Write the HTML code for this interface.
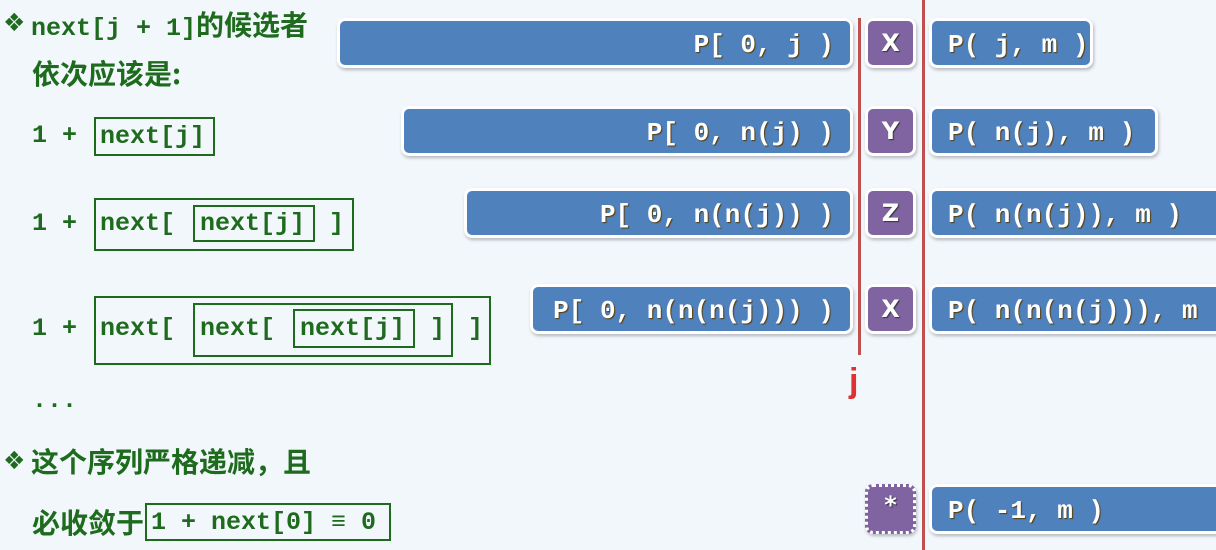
<!DOCTYPE html>
<html><head><meta charset="utf-8"><style>
body{margin:0;width:1216px;height:550px;background:#f2f7fc;position:relative;overflow:hidden;font-family:"Liberation Mono","Noto Sans CJK SC",monospace;}
.t{position:absolute;color:#1e6b1e;font-weight:bold;font-size:25px;white-space:pre;line-height:30px;}
.c{font-family:"Noto Sans CJK SC",sans-serif;font-size:28px;font-weight:bold;}
.d{position:absolute;color:#1e6b1e;font-size:25px;line-height:30px;font-family:"DejaVu Sans",sans-serif;}
.bx{position:absolute;border:2px solid #1e6b1e;box-sizing:border-box;}
.b{position:absolute;background:#4f81bd;border:3px solid #fff;border-radius:8px;box-sizing:border-box;height:50px;color:#fff;font-weight:bold;font-size:26px;line-height:48px;white-space:pre;box-shadow:1px 2px 3px rgba(0,0,0,.25);text-shadow:1px 1px 1px #5a3a00;overflow:hidden;}
.l{text-align:right;padding-right:16px;}
.r{padding-left:16px;}
.p{position:absolute;background:#8064a2;border:3px solid #fff;border-radius:8px;box-sizing:border-box;width:51px;height:50px;left:865px;color:#fff;font-weight:900;font-family:"DejaVu Sans",sans-serif;font-size:24px;line-height:44px;text-align:center;box-shadow:1px 2px 3px rgba(0,0,0,.25);text-shadow:1px 1px 1px #333;}
.v{position:absolute;background:#c0504d;width:3px;}
</style></head><body>
<div class="d" style="left:3px;top:8px">❖</div>
<div class="t" style="left:31px;top:9px">next[j + 1]<span class="c">的候选者</span></div>
<div class="t c" style="left:32px;top:58px">依次应该是:</div>
<div class="t" style="left:32px;top:121px">1 +</div>
<div class="bx" style="left:94px;top:117px;width:121px;height:39px"></div>
<div class="t" style="left:100px;top:122px">next[j]</div>

<div class="t" style="left:32px;top:209px">1 +</div>
<div class="bx" style="left:94px;top:198px;width:260px;height:53px"></div>
<div class="bx" style="left:193px;top:205px;width:122px;height:37px"></div>
<div class="t" style="left:100px;top:209px">next[</div>
<div class="t" style="left:200px;top:209px">next[j]</div>
<div class="t" style="left:329px;top:209px">]</div>

<div class="t" style="left:32px;top:314px">1 +</div>
<div class="bx" style="left:94px;top:296px;width:397px;height:69px"></div>
<div class="bx" style="left:193px;top:303px;width:260px;height:54px"></div>
<div class="bx" style="left:293px;top:309px;width:122px;height:39px"></div>
<div class="t" style="left:100px;top:314px">next[</div>
<div class="t" style="left:200px;top:314px">next[</div>
<div class="t" style="left:300px;top:314px">next[j]</div>
<div class="t" style="left:430px;top:314px">]</div>
<div class="t" style="left:468px;top:314px">]</div>

<div class="t" style="left:32px;top:386px">...</div>
<div class="d" style="left:3px;top:446px">❖</div>
<div class="t c" style="left:31px;top:446px">这个序列严格递减，且</div>
<div class="t c" style="left:32px;top:507px">必收敛于</div>
<div class="bx" style="left:145px;top:503px;width:246px;height:38px"></div>
<div class="t" style="left:151px;top:508px">1 + next[0] ≡ 0</div>

<div class="v" style="left:858px;top:18px;height:337px"></div>
<div class="v" style="left:922px;top:0;height:550px"></div>
<div style="position:absolute;left:849px;top:362px;color:#e03030;font-family:'Liberation Sans',sans-serif;font-size:34px;font-weight:bold">j</div>

<div class="b l" style="left:337px;top:18px;width:516px">P[ 0, j )</div>
<div class="b l" style="left:401px;top:106px;width:452px">P[ 0, n(j) )</div>
<div class="b l" style="left:464px;top:188px;width:389px">P[ 0, n(n(j)) )</div>
<div class="b l" style="left:530px;top:284px;width:323px">P[ 0, n(n(n(j))) )</div>

<div class="p" style="top:18px">X</div>
<div class="p" style="top:106px">Y</div>
<div class="p" style="top:188px">Z</div>
<div class="p" style="top:284px">X</div>
<div class="p" style="top:484px;border:3px dotted #fff;line-height:36px">*</div>

<div class="b r" style="left:929px;top:18px;width:164px">P( j, m )</div>
<div class="b r" style="left:929px;top:106px;width:229px">P( n(j), m )</div>
<div class="b r" style="left:929px;top:188px;width:300px">P( n(n(j)), m )</div>
<div class="b r" style="left:929px;top:284px;width:300px">P( n(n(n(j))), m</div>
<div class="b r" style="left:929px;top:484px;width:300px">P( -1, m )</div>
</body></html>
